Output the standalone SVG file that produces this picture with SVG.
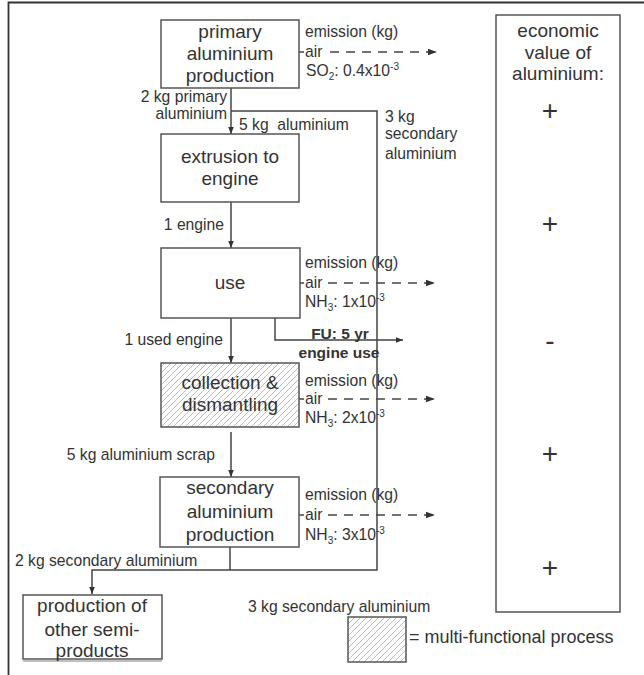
<svg xmlns="http://www.w3.org/2000/svg" width="644" height="675" viewBox="0 0 644 675">
<style>
text{font-family:"Liberation Sans",Arial,sans-serif;fill:#333}
.bx{font-size:19px;text-anchor:middle}
.lb{font-size:15.7px}
.sm{font-size:10px}
.bd{font-size:15.5px;font-weight:bold;text-anchor:middle}
.pm{font-size:28px;text-anchor:middle}
rect{fill:#fff;stroke:#555;stroke-width:1.5}
.ln{fill:none;stroke:#444;stroke-width:1.5}
.ds{fill:none;stroke:#444;stroke-width:1.5;stroke-dasharray:9 7}
</style>
<defs>
<pattern id="hatch" patternUnits="userSpaceOnUse" width="6" height="6">
<rect x="0" y="0" width="6" height="6" style="fill:#fff;stroke:none"/>
<path d="M0,6 L6,0 M-1,1 L1,-1 M5,7 L7,5" stroke="#aaa" stroke-width="0.8"/>
</pattern>
<marker id="ar" viewBox="0 0 10 10" refX="10" refY="5" markerWidth="7" markerHeight="7" markerUnits="userSpaceOnUse" orient="auto"><path d="M0,1 L10,5 L0,9 z" fill="#333"/></marker>
<marker id="ard" viewBox="0 0 10 10" refX="10" refY="5" markerWidth="10" markerHeight="9" markerUnits="userSpaceOnUse" orient="auto"><path d="M0,1.5 L10,5 L0,8.5 z" fill="#333"/></marker>
</defs>
<rect width="644" height="675" style="fill:#fff;stroke:none"/>
<path d="M8.5,675 V2.5 H644" fill="none" stroke="#333" stroke-width="1.8"/>

<g id="connectors">
<path class="ln" d="M231,88 V134" marker-end="url(#ar)"/>
<path class="ln" d="M231,111 H377 V570 H92 V594" marker-end="url(#ar)"/>
<path class="ln" d="M231,202 V248" marker-end="url(#ar)"/>
<path class="ln" d="M231,318 V363" marker-end="url(#ar)"/>
<path class="ln" d="M231,432 V477" marker-end="url(#ar)"/>
<path class="ln" d="M230,547 V570"/>
<path class="ln" d="M275,318 V340 H403" marker-end="url(#ar)"/>
<path class="ln" d="M299,52 H304"/>
<path class="ds" d="M330,52 H437" marker-end="url(#ard)"/>
<path class="ln" d="M299,283 H304"/>
<path class="ds" d="M328,283 H435" marker-end="url(#ard)"/>
<path class="ln" d="M299,399 H304"/>
<path class="ds" d="M328,399 H435" marker-end="url(#ard)"/>
<path class="ln" d="M299,515 H304"/>
<path class="ds" d="M328,515 H435" marker-end="url(#ard)"/>
</g>

<g id="primary">
<rect x="161" y="20" width="138" height="68"/>
<text class="bx" x="230" y="38">primary</text>
<text class="bx" x="230" y="60">aluminium</text>
<text class="bx" x="230" y="82">production</text>
</g>
<g id="em1">
<text class="lb" x="305" y="37">emission (kg)</text>
<text class="lb" x="305" y="57">air</text>
<text class="lb" x="306" y="76">SO<tspan class="sm" dy="4">2</tspan><tspan dy="-4">: 0.4x10</tspan><tspan class="sm" dy="-6">-3</tspan></text>
</g>

<g id="extrusion">
<rect x="161" y="134" width="138" height="68"/>
<text class="bx" x="230" y="163">extrusion to</text>
<text class="bx" x="230" y="185">engine</text>
</g>

<g id="use">
<rect x="161" y="248" width="139" height="70"/>
<text class="bx" x="230" y="289">use</text>
</g>
<g id="em2">
<text class="lb" x="305" y="268">emission (kg)</text>
<text class="lb" x="305" y="288">air</text>
<text class="lb" x="305" y="307">NH<tspan class="sm" dy="4">3</tspan><tspan dy="-4">: 1x10</tspan><tspan class="sm" dy="-6">-3</tspan></text>
</g>

<g id="collection">
<rect x="161" y="363" width="138" height="64" style="fill:url(#hatch)"/>
<text class="bx" x="230" y="389">collection &amp;</text>
<text class="bx" x="230" y="411">dismantling</text>
</g>
<g id="em3">
<text class="lb" x="305" y="386">emission (kg)</text>
<text class="lb" x="305" y="404">air</text>
<text class="lb" x="305" y="423">NH<tspan class="sm" dy="4">3</tspan><tspan dy="-4">: 2x10</tspan><tspan class="sm" dy="-6">-3</tspan></text>
</g>

<g id="secondary">
<rect x="160" y="477" width="139" height="70"/>
<text class="bx" x="230" y="494">secondary</text>
<text class="bx" x="230" y="518">aluminium</text>
<text class="bx" x="230" y="541">production</text>
</g>
<g id="em4">
<text class="lb" x="305" y="500">emission (kg)</text>
<text class="lb" x="305" y="520">air</text>
<text class="lb" x="305" y="540">NH<tspan class="sm" dy="4">3</tspan><tspan dy="-4">: 3x10</tspan><tspan class="sm" dy="-6">-3</tspan></text>
</g>

<g id="other">
<rect x="23" y="595" width="139" height="64"/>
<path d="M23,661 H162" stroke="#aaa" stroke-width="1.5"/>
<text class="bx" x="92" y="612">production of</text>
<text class="bx" x="92" y="636">other semi-</text>
<text class="bx" x="92" y="657">products</text>
</g>

<g id="labels">
<text class="lb" x="227" y="102" text-anchor="end">2 kg primary</text>
<text class="lb" x="227" y="119" text-anchor="end">aluminium</text>
<text class="lb" x="239" y="130" xml:space="preserve">5 kg  aluminium</text>
<text class="lb" x="385" y="122">3 kg</text>
<text class="lb" x="385" y="139">secondary</text>
<text class="lb" x="385" y="159">aluminium</text>
<text class="lb" x="224" y="230" text-anchor="end">1 engine</text>
<text class="lb" x="223" y="345" text-anchor="end">1 used engine</text>
<text class="bd" x="340" y="339">FU: 5 yr</text>
<text class="bd" x="339" y="358">engine use</text>
<text class="lb" x="215" y="460" text-anchor="end">5 kg aluminium scrap</text>
<text class="lb" x="15" y="566">2 kg secondary aluminium</text>
<text class="lb" x="248" y="612">3 kg secondary aluminium</text>
</g>

<g id="value">
<rect x="496" y="15" width="124" height="597"/>
<text class="bx" x="558" y="37">economic</text>
<text class="bx" x="558" y="59">value of</text>
<text class="bx" x="558" y="80">aluminium:</text>
<text class="pm" x="550" y="120">+</text>
<text class="pm" x="550" y="233">+</text>
<text class="pm" x="550" y="350">-</text>
<text class="pm" x="550" y="463">+</text>
<text class="pm" x="550" y="577">+</text>
</g>

<g id="legend">
<rect x="348" y="617" width="58" height="45" style="fill:url(#hatch)"/>
<text x="409" y="643" style="font-size:18px">= multi-functional process</text>
</g>
</svg>
